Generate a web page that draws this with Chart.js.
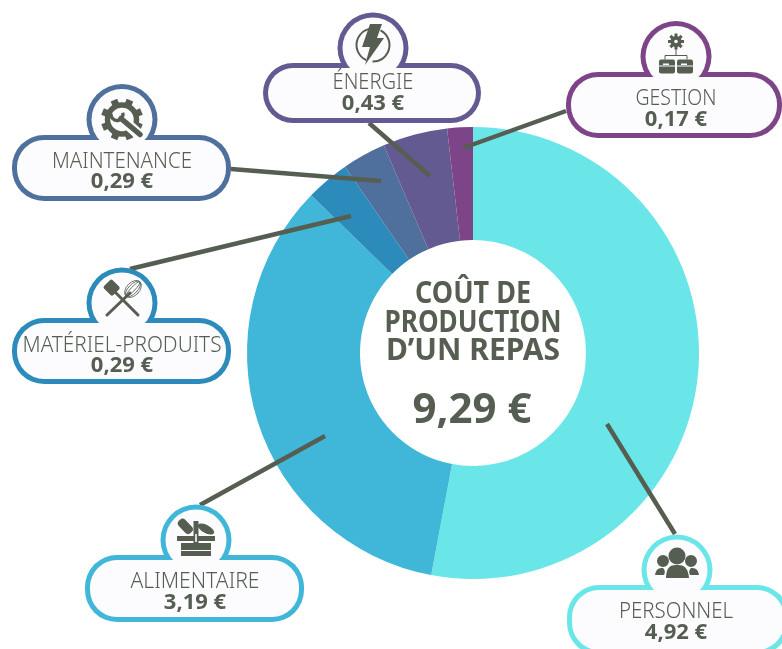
<!DOCTYPE html>
<html lang="fr"><head><meta charset="utf-8">
<style>html,body{margin:0;padding:0;background:#fff}canvas{display:block}</style>
<script src="https://cdn.jsdelivr.net/npm/chart.js@4"></script></head>
<body><canvas id="c" width="782" height="649"></canvas>
<script>
const categories = ['PERSONNEL','ALIMENTAIRE','MATÉRIEL-PRODUITS','MAINTENANCE','ÉNERGIE','GESTION'];
const values = [4.92,3.19,0.29,0.29,0.43,0.17];
const sliceColors = ['#6ae6e9','#40b7d8','#2c8bbb','#4f6f9d','#625a90','#7d4587'];
const centerLines = ['COÛT DE','PRODUCTION','D’UN REPAS'];
const centerTotal = '9,29 €';
const INK = '#565e52', PANEL = '#fcfcff';
// callout layout: pill box, icon circle, text baselines, leader line
const callouts = [
 {x:567,y:585,w:222,h:70,cx:677,cy:570,tx:676,b1:618,b2:639,tw:114,line:[675,534,607,424],icon:'people'},
 {x:85,y:555,w:219,h:67,cx:196,cy:540,tx:195,b1:588,b2:609,tw:129,line:[200,505,325,436],icon:'basket'},
 {x:12,y:318,w:219,h:66,cx:122,cy:303,tx:122,b1:352,b2:372,tw:199,line:[130,269,351,216],icon:'tools'},
 {x:12,y:135,w:219,h:66,cx:122,cy:119.5,tx:122,b1:168,b2:188,tw:140,line:[231,169,381,181],icon:'gear'},
 {x:263,y:63,w:218,h:60,cx:373,cy:48,tx:373,b1:89,b2:110,tw:81,line:[369,123,430,176],icon:'bolt'},
 {x:566,y:72,w:216,h:66,cx:676,cy:56.5,tx:676,b1:105,b2:126,tw:81,line:[566,111,463,148],icon:'org'}
];
const icons = {
 people(g,x,y){
  g.beginPath();g.arc(x,y-14,8.5,0,7);g.fill();
  g.beginPath();g.arc(x-14,y-9,6,0,7);g.arc(x+14,y-9,6,0,7);g.fill();
  g.beginPath();g.moveTo(x-11,y+8);g.quadraticCurveTo(x-11,y-6,x,y-5);g.quadraticCurveTo(x+11,y-6,x+12,y+8);g.closePath();g.fill();
  for(const s of [-1,1]){g.beginPath();g.moveTo(x+s*22,y+5);g.quadraticCurveTo(x+s*21,y-3,x+s*14,y-2);g.quadraticCurveTo(x+s*11,y+1,x+s*13,y+5);g.closePath();g.fill();}
 },
 basket(g,x,y){
  g.fillRect(x-19,y-4,38,5);g.fillRect(x-15,y+3,30,7);g.fillRect(x-15,y+11,30,5);
  g.save();g.translate(x-11,y-14);g.rotate(0.8);g.beginPath();g.roundRect(-8,-4.5,17,9,4);g.fill();g.restore();
  g.beginPath();g.ellipse(x+10,y-11,9,4,0.5,0,7);g.fill();
  g.fillRect(x-2.5,y-19,5,27);g.fillStyle=PANEL;g.fillRect(x-.8,y-6,1.6,8);
 },
 tools(g,x,y){
  g.lineCap='round';g.lineWidth=3;
  g.beginPath();g.moveTo(x-8,y-12);g.lineTo(x+16,y+12);g.stroke();
  g.beginPath();g.moveTo(x+8,y-10);g.lineTo(x-15,y+12);g.stroke();
  g.save();g.translate(x-10,y-15);g.rotate(-0.78);g.beginPath();g.roundRect(-6,-7,12,13,2);g.fill();g.restore();
  g.save();g.translate(x+11,y-14);g.rotate(0.76);g.lineWidth=.8;
  for(const r of [2,4.5,6.5]){g.beginPath();g.ellipse(0,0,r,10,0,0,7);g.stroke();}g.restore();
 },
 gear(g,x,y){
  g.save();g.translate(x,y);
  for(let i=0;i<8;i++){g.save();g.rotate(i*Math.PI/4+0.39);g.fillRect(-3.5,-21,7,7);g.restore();}
  g.lineWidth=5.5;g.beginPath();g.arc(0,0,14.5,0,7);g.stroke();
  g.strokeStyle=PANEL;g.lineWidth=11;g.beginPath();g.moveTo(-1,-1);g.lineTo(17,15);g.stroke();
  g.strokeStyle=INK;g.lineCap='round';g.lineWidth=5.5;g.beginPath();g.moveTo(-1,-1);g.lineTo(18,15);g.stroke();
  g.lineCap='butt';g.lineWidth=3.5;g.beginPath();g.arc(-5,-5,6,-0.3,3.3);g.stroke();
  g.restore();
 },
 bolt(g,x,y){
  g.lineWidth=2;g.beginPath();g.arc(x,y-3,16.5,-1.1,1.6);g.stroke();g.beginPath();g.arc(x,y-3,16.5,2,4.5);g.stroke();
  g.beginPath();g.moveTo(x-3,y-24);g.lineTo(x+9,y-24);g.lineTo(x+4,y-10);g.lineTo(x+11,y-10);g.lineTo(x-8,y+17);g.lineTo(x-3,y-1);g.lineTo(x-11,y-1);g.closePath();g.fill();
 },
 org(g,x,y){
  g.save();g.translate(x,y-15);
  for(let i=0;i<8;i++){g.save();g.rotate(i*Math.PI/4);g.fillRect(-1.5,-8,3,4);g.restore();}
  g.beginPath();g.arc(0,0,5.5,0,7);g.fill();g.fillStyle=PANEL;g.beginPath();g.arc(0,0,1.8,0,7);g.fill();g.restore();
  g.lineWidth=1;g.beginPath();g.moveTo(x,y-8);g.lineTo(x,y-1);g.moveTo(x-11,y+3);g.lineTo(x-11,y-1);g.lineTo(x+11,y-1);g.lineTo(x+11,y+3);g.stroke();
  for(const s of [-9,9]){g.fillStyle=INK;g.beginPath();g.roundRect(x+s-8,y+3,16,14,2);g.fill();g.fillStyle=PANEL;g.fillRect(x+s-8,y+9,16,1);g.fillRect(x+s-4,y+7,6,1.5);}
 }
};
const calloutPlugin = {
 id:'callouts',
 afterDatasetsDraw(chart){
  const g = chart.ctx; g.save();
  g.strokeStyle=INK;g.lineWidth=4.5;g.lineCap='butt';
  callouts.forEach(c=>{g.beginPath();g.moveTo(c.line[0],c.line[1]);g.lineTo(c.line[2],c.line[3]);g.stroke();});
  callouts.forEach((c,i)=>{
   const shape=(d)=>{
    g.beginPath();g.roundRect(c.x+d,c.y+d,c.w-2*d,c.h-2*d,32-d);g.fill();
    g.beginPath();g.arc(c.cx,c.cy,35.5-d,0,Math.PI*2);g.fill();
   };
   g.fillStyle=sliceColors[i];shape(0);
   g.fillStyle=PANEL;shape(5);
   g.fillStyle=INK;g.strokeStyle=INK;g.textAlign='center';g.textBaseline='alphabetic';
   g.save();icons[c.icon](g,c.cx,c.cy);g.restore();
   g.fillStyle=INK;
   g.font='300 22px "Noto Sans"';g.fillText(categories[i],c.tx,c.b1,c.tw);
   g.font='700 22px "Noto Sans"';g.fillText(values[i].toFixed(2).replace('.',',')+' €',c.tx,c.b2,65);
  });
  g.fillStyle=INK;g.textAlign='center';
  g.font='700 30px "Noto Sans"';
  const w=[116,177,177],b=[303,332,360];
  centerLines.forEach((t,i)=>g.fillText(t,473,b[i],w[i]));
  g.font='700 42px "Noto Sans"';g.fillText(centerTotal,472,423,119);
  g.restore();
 }
};
new Chart(document.getElementById('c'),{
 type:'doughnut',
 data:{labels:categories,datasets:[{data:values,backgroundColor:sliceColors,borderWidth:0}]},
 options:{responsive:false,animation:false,cutout:'50%',
  layout:{padding:{left:247,right:83,top:127,bottom:70}},
  plugins:{legend:{display:false},tooltip:{enabled:false}}},
 plugins:[calloutPlugin]
});
</script></body></html>
